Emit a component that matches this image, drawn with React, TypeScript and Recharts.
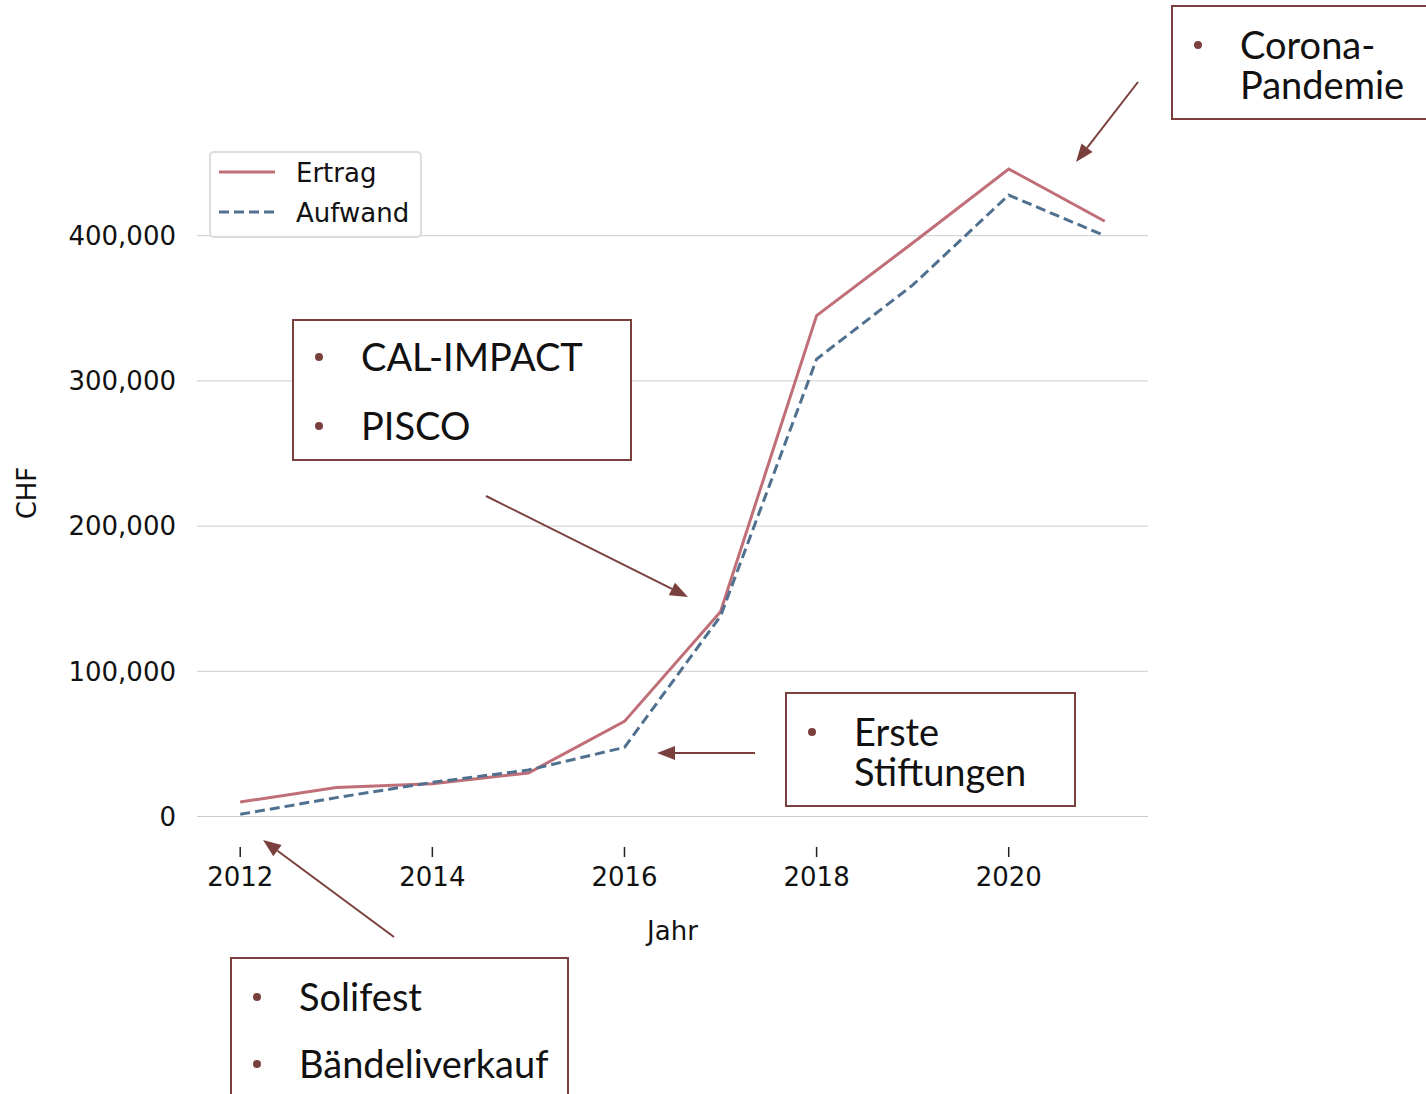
import { LineChart, Line, XAxis, YAxis, ReferenceLine, Legend } from 'recharts';

const years = [2012, 2013, 2014, 2015, 2016, 2017, 2018, 2019, 2020, 2021];
const ertrag = [10000, 20000, 22500, 30000, 65500, 141000, 345000, 395000, 446000, 410000];
const aufwand = [1500, 13000, 23500, 32000, 47600, 138000, 315000, 366000, 428000, 400000];
const xTicks = [2012, 2014, 2016, 2018, 2020];
const yTicks = [0, 100000, 200000, 300000, 400000];

const data = years.map((year, i) => ({ year, ertrag: ertrag[i], aufwand: aufwand[i] }));

const RED = '#c06e77';
const BLUE = '#50708f';
const BROWN = '#7a403e';
const SANS = '"DejaVu Sans", sans-serif';
const LATO = 'Lato, sans-serif';

function LegendBox() {
  const rows = [
    { label: 'Ertrag', color: RED, dash: undefined, cy: 21 },
    { label: 'Aufwand', color: BLUE, dash: '10 5', cy: 61 },
  ];
  return (
    <div
      style={{
        position: 'relative', width: 213, height: 87, boxSizing: 'border-box',
        border: '2px solid #dcdcdc', borderRadius: 5, background: 'rgba(255,255,255,0.85)',
      }}
    >
      {rows.map((r) => (
        <div key={r.label}>
          <svg width={60} height={6} style={{ position: 'absolute', left: 8, top: r.cy - 5 }}>
            <line x1={0} y1={3} x2={56} y2={3} stroke={r.color} strokeWidth={3} strokeDasharray={r.dash} />
          </svg>
          <span
            style={{
              position: 'absolute', left: 85, top: r.cy - 16, fontFamily: SANS, fontSize: 26,
              lineHeight: '30px', color: '#111', whiteSpace: 'nowrap',
            }}
          >
            {r.label}
          </span>
        </div>
      ))}
    </div>
  );
}

function Arrow({ x1, y1, x2, y2 }: { x1: number; y1: number; x2: number; y2: number }) {
  const a = Math.atan2(y2 - y1, x2 - x1);
  const len = 18, half = 7;
  const bx = x2 - len * Math.cos(a), by = y2 - len * Math.sin(a);
  const p1 = `${bx + half * Math.sin(a)},${by - half * Math.cos(a)}`;
  const p2 = `${bx - half * Math.sin(a)},${by + half * Math.cos(a)}`;
  return (
    <g>
      <line x1={x1} y1={y1} x2={bx} y2={by} stroke={BROWN} strokeWidth={2} />
      <polygon points={`${x2},${y2} ${p1} ${p2}`} fill={BROWN} />
    </g>
  );
}

function NoteBox({ x, y, w, h, items }: { x: number; y: number; w: number; h: number; items: { text: string; by: number; bullet: boolean }[] }) {
  return (
    <g>
      <rect x={x} y={y} width={w} height={h} fill="#fff" stroke={BROWN} strokeWidth={2} />
      {items.map((it) => (
        <g key={it.text}>
          {it.bullet && <circle cx={x + 26} cy={it.by - 14} r={4} fill={BROWN} />}
          <text x={x + 68} y={it.by} fontFamily={LATO} fontSize={38} fill="#111">{it.text}</text>
        </g>
      ))}
    </g>
  );
}

export default function App() {
  return (
    <div style={{ position: 'absolute', left: 0, top: 0, width: 1426, height: 1094, background: '#fff' }}>
      <LineChart width={1426} height={1094} data={data} margin={{ top: 137, right: 278, bottom: 147, left: 77 }}>
        {yTicks.map((v) => (
          <ReferenceLine key={v} y={v} stroke="#cccccc" strokeWidth={1} />
        ))}
        <XAxis
          dataKey="year" type="number" domain={[2011.55, 2021.45]} ticks={xTicks} allowDataOverflow
          axisLine={false} tickLine={{ stroke: '#222', strokeWidth: 1.5 }} tickSize={10} tickMargin={11} height={100}
          tick={{ fill: '#111', fontSize: 26, fontFamily: SANS }}
          label={{ value: 'Jahr', position: 'insideBottom', offset: 7, fill: '#111', fontSize: 26, fontFamily: SANS }}
        />
        <YAxis
          type="number" domain={[-21000, 468000]} ticks={yTicks} width={120} allowDataOverflow
          axisLine={false} tickLine={false} tickSize={6} tickMargin={15}
          tickFormatter={(v: number) => v.toLocaleString('en-US')}
          tick={{ fill: '#111', fontSize: 26, fontFamily: SANS }}
        />
        <Legend
          layout="horizontal" verticalAlign="middle" align="center"
          wrapperStyle={{ left: 209, top: 151, width: 'auto' }}
          content={() => <LegendBox />}
        />
        <Line dataKey="ertrag" name="Ertrag" type="linear" stroke={RED} strokeWidth={3} dot={false} isAnimationActive={false} />
        <Line dataKey="aufwand" name="Aufwand" type="linear" stroke={BLUE} strokeWidth={3} strokeDasharray="10 5" dot={false} isAnimationActive={false} />
      </LineChart>
      <svg width={1426} height={1094} style={{ position: 'absolute', left: 0, top: 0, pointerEvents: 'none' }}>
        <text x={27} y={493} transform="rotate(-90 27 493)" textAnchor="middle" dominantBaseline="central" fontFamily={SANS} fontSize={26} fill="#111">CHF</text>

        <Arrow x1={1138} y1={82} x2={1076} y2={162} />
        <NoteBox x={1172} y={6} w={300} h={113} items={[{ text: 'Corona-', by: 59, bullet: true }, { text: 'Pandemie', by: 99, bullet: false }]} />

        <Arrow x1={486} y1={496} x2={688} y2={597} />
        <NoteBox x={293} y={320} w={338} h={140} items={[{ text: 'CAL-IMPACT', by: 371, bullet: true }, { text: 'PISCO', by: 440, bullet: true }]} />

        <Arrow x1={755} y1={753} x2={657} y2={753} />
        <NoteBox x={786} y={693} w={289} h={113} items={[{ text: 'Erste', by: 746, bullet: true }, { text: 'Stiftungen', by: 786, bullet: false }]} />

        <Arrow x1={394} y1={937} x2={263} y2={840} />
        <NoteBox x={231} y={958} w={337} h={160} items={[{ text: 'Solifest', by: 1011, bullet: true }, { text: 'Bändeliverkauf', by: 1078, bullet: true }]} />
      </svg>
    </div>
  );
}
